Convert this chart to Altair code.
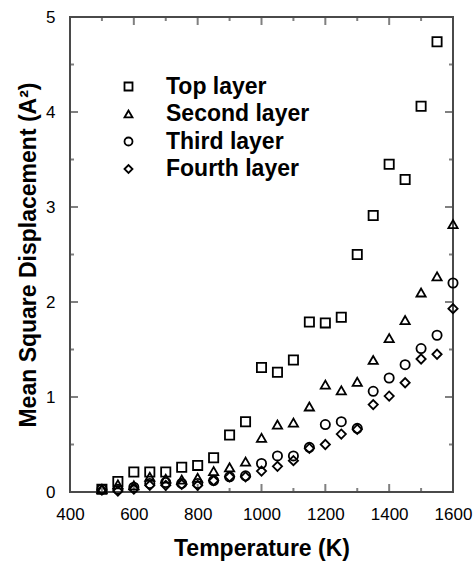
import altair as alt
import pandas as pd

# ---- data ----
temps = [500, 550, 600, 650, 700, 750, 800, 850, 900, 950, 1000, 1050, 1100,
         1150, 1200, 1250, 1300, 1350, 1400, 1450, 1500, 1550, 1600]
top_layer = [0.03, 0.11, 0.21, 0.21, 0.21, 0.26, 0.28, 0.36, 0.60, 0.74, 1.31, 1.26,
             1.39, 1.79, 1.78, 1.84, 2.50, 2.91, 3.45, 3.29, 4.06, 4.74]
second_layer = [0.03, 0.08, 0.07, 0.16, 0.14, 0.13, 0.15, 0.22, 0.26, 0.32, 0.57, 0.71,
                0.73, 0.90, 1.13, 1.07, 1.16, 1.39, 1.62, 1.81, 2.10, 2.27, 2.82]
third_layer = [0.03, 0.03, 0.05, 0.09, 0.10, 0.09, 0.09, 0.12, 0.16, 0.17, 0.30, 0.38,
               0.38, 0.47, 0.71, 0.74, 0.67, 1.06, 1.20, 1.34, 1.51, 1.65, 2.20]
fourth_layer = [0.02, 0.01, 0.03, 0.07, 0.07, 0.08, 0.07, 0.12, 0.16, 0.16, 0.22, 0.27,
                0.33, 0.46, 0.50, 0.61, 0.66, 0.92, 1.01, 1.15, 1.40, 1.45, 1.93]

layer_names = ["Top layer", "Second layer", "Third layer", "Fourth layer"]
layer_shapes = ["square", "triangle-up", "circle", "diamond"]

x_major = [400, 600, 800, 1000, 1200, 1400, 1600]
x_minor = [500, 700, 900, 1100, 1300, 1500]
y_major = [0, 1, 2, 3, 4, 5]
y_minor = [0.5, 1.5, 2.5, 3.5, 4.5]
x_range = [400, 1600]
y_range = [0, 5]

rows = []
for name, vals in zip(layer_names, [top_layer, second_layer, third_layer, fourth_layer]):
    for t, v in zip(temps, vals):
        rows.append({"T": t, "MSD": v, "layer": name})
df = pd.DataFrame(rows)

W, H = 383, 475
FONT = "Liberation Sans"
LW = 2
LINE = "#4a4a4a"

x_scale = alt.Scale(domain=x_range, nice=False, zero=False)
y_scale = alt.Scale(domain=y_range, nice=False, zero=True)

points = alt.Chart(df).mark_point(
    filled=False, color="black", strokeWidth=1.8, size=85, opacity=1
).encode(
    x=alt.X("T:Q", scale=x_scale,
            axis=alt.Axis(title="Temperature (K)", values=x_major, format="d",
                          labelPadding=14, labelFlush=False, labelOverlap=False,
                          titleY=63, titleBaseline="alphabetic")),
    y=alt.Y("MSD:Q", scale=y_scale,
            axis=alt.Axis(title="Mean Square Displacement (A²)", values=y_major, format="d",
                          labelPadding=15, labelFlush=False, labelOverlap=False,
                          titleX=-35, titleAngle=270, titleBaseline="alphabetic")),
    shape=alt.Shape("layer:N",
                    scale=alt.Scale(domain=layer_names, range=layer_shapes),
                    legend=alt.Legend(orient="none", legendX=47, legendY=58, title=None,
                                      labelFont=FONT, labelFontSize=23, labelFontWeight="bold",
                                      labelColor="black", labelOffset=26, rowPadding=3.5,
                                      padding=0, symbolSize=64, symbolStrokeWidth=1.8,
                                      symbolStrokeColor="black")),
)


def xticks(vals, length):
    d = pd.DataFrame({"T": vals})
    bottom = alt.Chart(d).mark_tick(color=LINE, thickness=LW, size=length).encode(
        x=alt.X("T:Q", scale=x_scale), y=alt.value(H - length / 2))
    top = alt.Chart(d).mark_tick(color=LINE, thickness=LW, size=length).encode(
        x=alt.X("T:Q", scale=x_scale), y=alt.value(length / 2))
    return [bottom, top]


def yticks(vals, length):
    d = pd.DataFrame({"MSD": vals})
    left = alt.Chart(d).mark_tick(color=LINE, thickness=LW, size=length).encode(
        y=alt.Y("MSD:Q", scale=y_scale), x=alt.value(length / 2))
    right = alt.Chart(d).mark_tick(color=LINE, thickness=LW, size=length).encode(
        y=alt.Y("MSD:Q", scale=y_scale), x=alt.value(W - length / 2))
    return [left, right]


layers = (xticks(x_major, 8) + xticks(x_minor, 4)
          + yticks(y_major, 8) + yticks(y_minor, 4) + [points])

chart = alt.layer(*layers).properties(
    width=W, height=H,
    autosize=alt.AutoSizeParams(type="none"),
    padding={"left": 70, "top": 17, "right": 20, "bottom": 71},
).configure_view(
    stroke=LINE, strokeWidth=LW
).configure_axis(
    labelFont=FONT, labelFontSize=17, labelColor="black",
    titleFont=FONT, titleFontSize=23, titleFontWeight="bold", titleColor="black",
    domain=False, ticks=False, grid=False,
)

chart.save("out.html", embed_options={"renderer": "svg", "actions": False})
